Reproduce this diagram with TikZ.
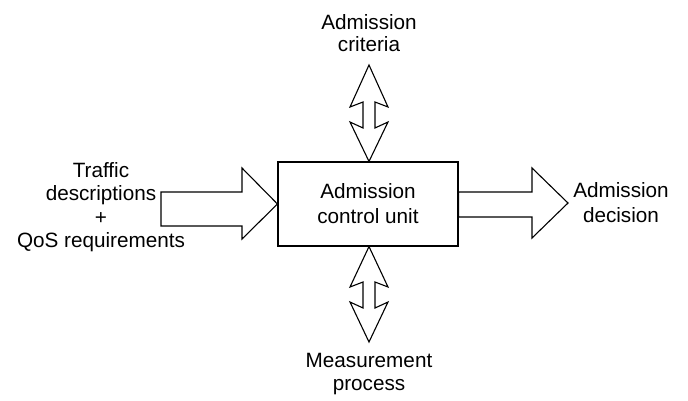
\documentclass[tikz,border=0pt]{standalone}
\usepackage{fontspec}
\setmainfont{Liberation Sans}
\begin{document}
\begin{tikzpicture}[x=1pt,y=-1pt,
  lbl/.style={inner sep=0pt,align=center,anchor=north,font=\fontsize{20.7}{22.5}\selectfont},
  blockarrow/.style={draw=black,line width=1.1pt,line join=miter,fill=white},
  unitbox/.style={draw=black,line width=1.1pt,minimum width=180pt,minimum height=84pt,inner sep=0pt}]
\useasboundingbox (0,0) rectangle (688,400);
% main box
\node[unitbox] (unit) at (368,204) {};
\node[lbl,font=\fontsize{20.7}{25.5}\selectfont] (unittext) at (368,183) {Admission\\control unit};
% labels
\node[lbl] (crit) at (369,14) {Admission\\criteria};
\node[lbl,font=\fontsize{20.7}{23.5}\selectfont] (traffic) at (101,162) {Traffic\\descriptions\\+\\QoS requirements};
\node[lbl,font=\fontsize{20.7}{25}\selectfont] (decision) at (621,182) {Admission\\decision};
\node[lbl,font=\fontsize{20.7}{23.5}\selectfont] (meas) at (369,353) {Measurement\\process};
% left input arrow
\draw[blockarrow] (161,192) -- (242,192) -- (242,168) -- (unit.west |- 0,204) -- (242,239) -- (242,226) -- (161,226) -- cycle;
% right output arrow
\draw[blockarrow] (unit.east |- 0,192) -- (532,192) -- (532,168) -- (568,203) -- (532,238) -- (532,217) -- (unit.east |- 0,217) -- cycle;
% top double arrow
\draw[blockarrow] (369,65) -- (388,107) -- (375,102) -- (375,128) -- (388,122) -- (unit.north -| 369,0) -- (350,122) -- (363,128) -- (363,102) -- (350,107) -- cycle;
% bottom double arrow
\draw[blockarrow] (unit.south -| 369,0) -- (388,287) -- (375,282) -- (375,308) -- (388,302) -- (369,342) -- (350,302) -- (363,308) -- (363,282) -- (350,287) -- cycle;
\end{tikzpicture}
\end{document}
